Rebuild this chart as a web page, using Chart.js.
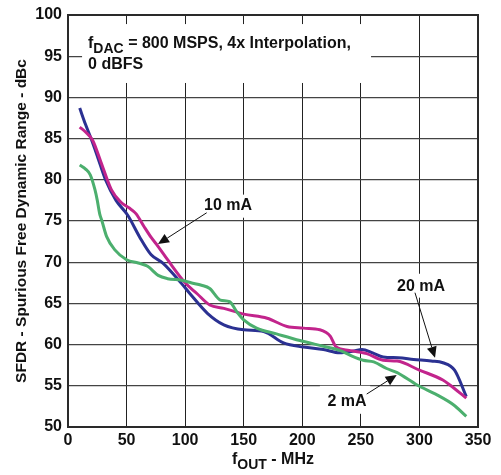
<!DOCTYPE html>
<html>
<head>
<meta charset="utf-8">
<script src="https://cdn.jsdelivr.net/npm/chart.js@4.4.0/dist/chart.umd.min.js"></script>
<style>
  html,body{margin:0;padding:0;background:#fff;}
  #wrap{width:501px;height:475px;position:relative;}
</style>
</head>
<body>
<div id="wrap"><canvas id="c"></canvas></div>
<script>
// 20 mA (blue)
const x20 = [10,15,20,25,32,41,51,61,71,81,97,104,119,133,150,167,184,201,218,232,243,251,260,269,282,295,310,320,330,340];
const y20 = [88.7,86.7,84.9,82.9,80.0,77.5,75.7,73.1,70.9,69.9,67.4,66.2,63.8,62.4,61.8,61.6,60.2,59.7,59.4,59.0,59.2,59.4,59.0,58.5,58.4,58.2,58.0,57.8,56.9,53.7];
// 10 mA (magenta)
const x10 = [10,15,21,28,37,45,52,58,65,71,77,85,100,110,121,133,150,170,187,201,215,220,224,229,240,255,269,281,300,320,326,340];
const y10 = [86.4,85.8,84.8,82.2,78.8,77.3,76.6,75.9,74.3,73.0,71.9,70.3,67.5,66.2,64.8,64.4,63.7,63.2,62.2,62.0,61.8,61.5,61.0,59.7,59.3,58.9,58.1,58.0,56.9,55.7,55.1,53.5];
// 2 mA (green)
const x2 = [10,15,19,23,25,27,29,33,40,50,60,68,77,85,97,105,114,121,130,138,144,150,161,178,198,218,232,241,252,261,272,281,298,315,329,340];
const y2 = [81.8,81.3,80.6,78.8,77.5,75.9,75.0,73.1,71.5,70.3,69.9,69.5,68.4,68.0,67.8,67.5,67.2,66.8,65.4,65.2,64.0,63.0,62.0,61.3,60.5,59.8,59.3,58.7,58.1,57.9,57.1,56.6,55.1,53.9,52.7,51.3];

const xTicks = [0,50,100,150,200,250,300,350];
const yTicks = [50,55,60,65,70,75,80,85,90,95,100];

const FONT = '"Liberation Sans", Arial, sans-serif';
const pts = (xs, ys) => xs.map((x,i)=>({x, y:ys[i]}));

function drawParts(ctx, parts, x, y, align){
  let w = 0;
  parts.forEach(p=>{ ctx.font = `bold ${p.size}px ${FONT}`; p.w = ctx.measureText(p.t).width; w += p.w; });
  let cx = align==='center' ? x - w/2 : x;
  ctx.textBaseline = 'alphabetic'; ctx.textAlign = 'left'; ctx.fillStyle = '#111';
  parts.forEach(p=>{ ctx.font = `bold ${p.size}px ${FONT}`; ctx.fillText(p.t, cx, y + (p.dy||0)); cx += p.w; });
}
function arrow(ctx, x1, y1, x2, y2){
  const a = Math.atan2(y2-y1, x2-x1), L = 11, W = 5;
  ctx.strokeStyle = '#111'; ctx.lineWidth = 1;
  ctx.beginPath(); ctx.moveTo(x1,y1); ctx.lineTo(x2 - L*Math.cos(a), y2 - L*Math.sin(a)); ctx.stroke();
  ctx.fillStyle = '#111'; ctx.beginPath();
  ctx.moveTo(x2,y2);
  ctx.lineTo(x2 - L*Math.cos(a) + W*Math.sin(a), y2 - L*Math.sin(a) - W*Math.cos(a));
  ctx.lineTo(x2 - L*Math.cos(a) - W*Math.sin(a), y2 - L*Math.sin(a) + W*Math.cos(a));
  ctx.closePath(); ctx.fill();
}

const notes = {
  id:'notes',
  beforeDatasetsDraw(chart){
    const {ctx, scales:{x, y}} = chart;
    ctx.save(); ctx.fillStyle = '#fff';
    // white boxes behind labels
    const box = (x0,y0,x1,y1)=>{ const a=x.getPixelForValue(x0), b=y.getPixelForValue(y0); ctx.fillRect(a, b, x.getPixelForValue(x1)-a, y.getPixelForValue(y1)-b); };
    box(12, 98.9, 258.7, 91.75);
    box(114, 78.2, 159, 75.4);
    box(279, 68.6, 324, 65.7);
    box(215, 55.0, 258, 51.6);
    ctx.restore();
  },
  afterDatasetsDraw(chart){
    const {ctx, scales:{x, y}, chartArea:ca} = chart;
    const px = v=>x.getPixelForValue(v), py = v=>y.getPixelForValue(v);
    ctx.save();
    // frame
    ctx.strokeStyle = '#2a2a2a'; ctx.lineWidth = 2;
    ctx.strokeRect(ca.left, ca.top, ca.right-ca.left, ca.bottom-ca.top);
    // condition text
    drawParts(ctx, [{t:'f',size:16},{t:'DAC',size:14,dy:5},{t:' = 800 MSPS, 4x Interpolation,',size:16}], px(17.1), py(96.76)+6);
    drawParts(ctx, [{t:'0 dBFS',size:16}], px(17.1), py(94.2)+6);
    // curve labels
    drawParts(ctx, [{t:'10 mA',size:16}], px(136.6), py(77.1)+6, 'center');
    arrow(ctx, px(118.4), py(76.0), px(76.8), py(72.2));
    drawParts(ctx, [{t:'20 mA',size:16}], px(301.4), py(67.2)+6, 'center');
    arrow(ctx, px(296.2), py(66.3), px(313.3), py(58.4));
    drawParts(ctx, [{t:'2 mA',size:16}], px(238.2), py(53.3)+6, 'center');
    arrow(ctx, px(255), py(54.0), px(280.6), py(56.3));
    // axis titles
    drawParts(ctx, [{t:'f',size:16},{t:'OUT',size:14,dy:5},{t:' - MHz',size:16}], (ca.left+ca.right)/2, 464, 'center');
    ctx.translate(26, (ca.top+ca.bottom)/2); ctx.rotate(-Math.PI/2);
    drawParts(ctx, [{t:'SFDR - Spurious Free Dynamic Range - dBc',size:15.5}], 0, 0, 'center');
    ctx.restore();
  }
};

const line = (label, data, color) => ({label, data, borderColor:color, borderWidth:3, pointRadius:0, cubicInterpolationMode:'monotone', fill:false});

new Chart(document.getElementById('c'), {
  type:'line',
  data:{ datasets:[
    line('2 mA', pts(x2,y2), '#4caf6e'),
    line('10 mA', pts(x10,y10), '#c2248c'),
    line('20 mA', pts(x20,y20), '#2b3192')
  ]},
  options:{
    responsive:true, maintainAspectRatio:false, animation:false,
    layout:{ padding:{ top:15, right:23, left:0, bottom:0 } },
    plugins:{ legend:{display:false}, tooltip:{enabled:false} },
    scales:{
      x:{ type:'linear', min:0, max:350,
        afterBuildTicks: s=>{ s.ticks = xTicks.map(v=>({value:v})); },
        afterFit: s=>{ s.height = 48; s.paddingLeft = 0; s.paddingRight = 0; },
        ticks:{ color:'#111', font:{family:FONT, size:16, weight:'bold'}, padding:4, maxRotation:0 },
        grid:{ color:'#222', lineWidth:1, drawTicks:false },
        border:{ display:false }
      },
      y:{ type:'linear', min:50, max:100,
        afterBuildTicks: s=>{ s.ticks = yTicks.map(v=>({value:v})); },
        afterFit: s=>{ s.width = 68; s.paddingTop = 0; s.paddingBottom = 0; },
        ticks:{ color:'#111', font:{family:FONT, size:16, weight:'bold'}, padding:6 },
        grid:{ color:'#444', lineWidth:1.3, drawTicks:false },
        border:{ display:false }
      }
    }
  },
  plugins:[notes]
});
</script>
</body>
</html>
